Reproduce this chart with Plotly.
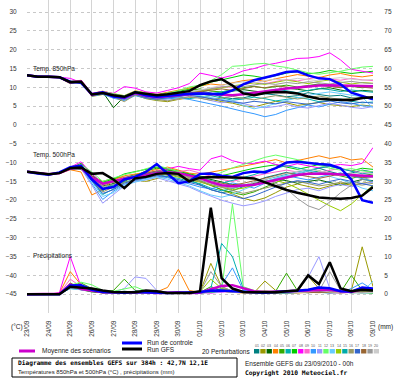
import plotly.graph_objects as go
import pandas as pd

# ---------------- data ----------------
times = pd.date_range("2010-09-23 00:00", "2010-10-09 00:00", freq="12h")  # 33 steps
day_ticks = pd.date_range("2010-09-23", "2010-10-09", freq="D")
day_labels = ["23/09", "24/09", "25/09", "26/09", "27/09", "28/09", "29/09", "30/09",
              "01/10", "02/10", "03/10", "04/10", "05/10", "06/10", "07/10", "08/10", "09/10"]
left_ticks = [-45, -40, -35, -30, -25, -20, -15, -10, -5, 0, 5, 10, 15, 20, 25, 30]
right_ticks = [0, 5, 10, 15, 20, 25, 30, 35, 40, 45, 50, 55, 60, 65, 70, 75]

mean_850 = [13.2, 12.8, 12.8, 12.7, 11.3, 11.6, 8.0, 8.6, 7.8, 7.2, 8.5, 7.8, 7.4, 7.6, 7.9, 8.2, 8.4,
            8.2, 8.0, 7.9, 8.2, 8.5, 8.9, 9.3, 9.7, 10.0, 10.3, 10.5, 10.6, 10.5, 10.4, 10.4, 10.3]
ctrl_850 = [13.2, 12.8, 12.8, 12.7, 11.5, 11.2, 8.2, 8.7, 7.6, 7.3, 8.7, 7.9, 7.5, 7.8, 8.1, 8.3, 8.4,
            8.3, 8.2, 9.2, 10.8, 11.9, 12.5, 13.3, 14.1, 14.3, 13.2, 12.4, 12.2, 10.8, 8.6, 7.8, 6.8]
gfs_850 = [13.2, 12.8, 12.8, 12.7, 11.4, 11.5, 8.1, 8.5, 7.9, 7.5, 8.7, 8.3, 7.9, 8.2, 8.5, 9.0, 10.6,
           11.6, 12.2, 10.5, 8.4, 7.9, 8.5, 8.8, 8.7, 8.4, 7.6, 7.0, 6.8, 6.6, 6.6, 7.2, 7.4]

mean_500 = [-12.4, -12.8, -13.1, -12.8, -11.6, -11.4, -14.0, -15.6, -15.0, -14.3, -14.0, -13.4, -12.8,
            -12.6, -12.8, -13.4, -14.1, -15.2, -16.0, -16.3, -16.2, -15.9, -15.3, -14.6, -13.8, -13.3,
            -13.0, -12.9, -13.0, -13.2, -13.3, -13.4, -13.6]
ctrl_500 = [-12.4, -12.9, -13.2, -12.6, -11.2, -10.8, -14.5, -17.0, -16.5, -14.5, -13.8, -12.5, -10.4,
            -13.0, -15.5, -15.0, -13.0, -12.9, -13.5, -13.8, -12.8, -12.4, -12.6, -11.5, -10.0, -9.8,
            -10.2, -10.4, -10.6, -11.5, -14.5, -20.0, -20.7]
gfs_500 = [-12.4, -12.8, -13.1, -12.8, -11.5, -11.3, -13.0, -12.8, -14.5, -16.8, -14.2, -13.8, -13.0,
           -12.8, -13.0, -15.0, -14.0, -13.8, -13.8, -13.9, -14.0, -14.2, -15.3, -16.3, -17.3, -18.0,
           -18.7, -19.3, -19.5, -19.6, -19.4, -18.8, -16.5]

mean_rr = [0, 0, 0, 0.1, 2.6, 1.4, 1.0, 0.5, 0.5, 0.4, 0.5, 0.5, 0.3, 0.4, 0.5, 0.3, 0.4,
           1.3, 2.2, 2.4, 1.5, 0.8, 0.6, 0.7, 0.8, 0.9, 1.0, 1.1, 1.2, 0.8, 0.6, 1.3, 1.2]
ctrl_rr = [0, 0, 0, 0, 2.3, 2.4, 1.2, 0.6, 0.5, 0.4, 0.6, 0.5, 0.4, 0.3, 0.4, 0.5, 0.6,
           0.9, 1.0, 0.8, 0.6, 0.5, 0.4, 0.6, 0.7, 0.9, 1.2, 1.8, 1.6, 0.8, 0.7, 1.8, 1.5]
gfs_rr = [0, 0, 0, 0, 2.0, 1.8, 1.5, 1.0, 0.6, 0.5, 0.5, 1.0, 0.8, 0.3, 0.3, 0.3, 0.8,
          23.0, 4.3, 1.5, 0.6, 0.5, 0.6, 0.5, 0.8, 1.0, 5.0, 2.7, 8.5, 1.5, 0.8, 1.2, 1.0]

pert_colors = ["#008080", "#999900", "#006600", "#ff8000", "#33aa00", "#00b0b0", "#00cc00", "#ff00ff",
               "#ff66cc", "#3399ff", "#9999ff", "#66ff66", "#66ccff", "#99cc00", "#00aaaa", "#999966",
               "#3366cc", "#996633", "#999999", "#cccccc"]

t850_pert = [
    [13.1, 12.9, 12.6, 12.8, 11.6, 11.2, 8.3, 8.9, 7.2, 7.0, 8.9, 8.3, 7.9, 8.6, 8.0, 8.8, 9.1, 8.5, 7.4, 7.0, 7.2, 7.9, 8.3, 8.0, 7.5, 7.8, 8.6, 8.1, 7.7, 7.9, 7.2, 7.0, 7.3],
    [13.3, 12.7, 12.9, 12.5, 11.0, 11.8, 7.6, 8.1, 7.5, 6.7, 8.0, 7.0, 6.5, 6.2, 6.8, 7.3, 7.6, 6.9, 6.2, 5.8, 5.1, 4.8, 5.5, 6.3, 5.9, 5.2, 5.6, 6.0, 5.4, 5.1, 4.9, 5.3, 5.0],
    [13.2, 12.8, 12.7, 12.9, 11.4, 11.7, 8.1, 8.8, 4.6, 7.6, 8.7, 7.6, 7.2, 7.8, 8.4, 8.9, 8.2, 7.9, 8.6, 8.9, 9.4, 9.0, 8.7, 9.3, 9.8, 9.5, 9.1, 9.6, 9.9, 9.3, 8.8, 9.2, 9.0],
    [13.2, 12.8, 12.9, 12.6, 11.5, 11.9, 8.4, 9.0, 8.3, 7.8, 9.1, 8.6, 8.1, 8.7, 9.3, 9.8, 10.5, 10.9, 10.6, 11.2, 11.8, 12.1, 11.6, 12.3, 12.9, 13.4, 13.0, 12.6, 13.3, 13.7, 13.1, 12.8, 13.2],
    [13.1, 12.9, 12.8, 12.7, 11.2, 11.5, 7.9, 8.5, 7.7, 7.3, 8.6, 7.9, 7.6, 7.9, 8.5, 9.2, 9.6, 9.0, 8.8, 9.4, 9.9, 10.3, 9.8, 10.2, 10.6, 10.1, 10.5, 10.9, 10.4, 10.0, 10.3, 9.9, 10.2],
    [13.2, 12.7, 12.8, 12.6, 11.1, 11.4, 7.8, 8.3, 7.4, 6.8, 8.2, 7.4, 6.9, 7.1, 7.5, 7.0, 7.4, 7.8, 7.2, 6.6, 6.9, 7.4, 7.0, 6.4, 6.8, 7.3, 6.9, 6.2, 6.5, 6.9, 6.3, 5.9, 6.1],
    [13.2, 12.8, 12.8, 12.8, 11.3, 11.7, 8.2, 8.7, 8.0, 7.5, 8.8, 8.1, 7.8, 8.3, 8.9, 9.5, 10.3, 11.4, 12.0, 12.6, 13.3, 13.0, 12.5, 13.1, 13.8, 14.2, 13.6, 13.9, 14.5, 14.1, 13.7, 14.0, 14.3],
    [13.2, 12.9, 12.8, 12.7, 12.4, 11.3, 8.4, 8.9, 8.4, 10.2, 9.8, 8.8, 8.5, 9.2, 9.9, 11.0, 13.8, 13.2, 12.5, 13.2, 14.4, 15.0, 15.9, 16.4, 17.0, 17.7, 17.8, 18.2, 19.2, 17.3, 14.8, 14.2, 13.8],
    [13.2, 12.8, 12.7, 12.7, 11.4, 11.5, 8.0, 8.7, 8.2, 7.4, 8.4, 8.0, 7.7, 8.1, 8.6, 8.4, 8.9, 9.6, 10.2, 10.0, 10.7, 11.3, 11.0, 11.6, 12.1, 11.7, 12.3, 12.8, 12.2, 11.9, 12.4, 12.0, 11.8],
    [13.2, 12.8, 12.8, 12.6, 11.2, 11.4, 7.7, 8.2, 7.1, 6.5, 7.8, 7.1, 6.7, 6.9, 7.2, 6.8, 6.3, 5.6, 5.0, 4.2, 3.6, 3.0, 2.2, 2.8, 3.9, 4.6, 5.3, 4.8, 5.5, 6.2, 5.8, 5.1, 4.9],
    [13.2, 12.8, 12.9, 12.7, 11.3, 11.5, 7.9, 8.4, 7.3, 6.8, 8.1, 7.5, 7.0, 6.6, 6.9, 7.6, 7.2, 6.5, 5.9, 6.4, 5.6, 5.0, 4.6, 4.9, 5.5, 4.8, 4.5, 5.1, 5.8, 5.3, 4.7, 4.4, 4.9],
    [13.2, 12.8, 12.8, 12.8, 11.5, 11.8, 8.2, 8.9, 8.3, 7.8, 9.0, 8.4, 8.0, 8.5, 9.1, 10.1, 10.6, 11.8, 13.4, 15.6, 15.8, 16.2, 16.4, 15.7, 15.3, 14.6, 13.9, 13.5, 13.8, 14.3, 14.9, 15.4, 15.6],
    [13.2, 12.9, 12.8, 12.7, 11.3, 11.6, 8.0, 8.5, 7.6, 7.0, 8.3, 7.6, 7.2, 7.4, 7.7, 8.0, 7.8, 7.3, 6.9, 6.3, 5.2, 4.3, 4.9, 5.8, 6.5, 7.2, 7.9, 8.4, 8.8, 8.3, 7.9, 7.5, 4.4],
    [13.2, 12.8, 12.7, 12.7, 11.4, 11.7, 8.1, 8.7, 8.0, 7.5, 8.6, 8.0, 7.6, 7.9, 8.3, 8.7, 9.0, 9.4, 9.9, 10.4, 10.9, 11.2, 10.8, 11.4, 11.9, 11.5, 11.0, 11.6, 12.0, 11.4, 10.9, 11.3, 11.1],
    [13.2, 12.8, 12.8, 12.6, 11.2, 11.5, 7.9, 8.4, 7.6, 7.1, 8.4, 7.7, 7.3, 7.5, 7.8, 8.3, 8.7, 8.3, 8.9, 9.3, 8.8, 8.4, 9.0, 9.5, 9.1, 8.6, 9.2, 9.7, 9.4, 8.9, 9.3, 9.0, 8.7],
    [13.2, 12.8, 12.8, 12.7, 11.3, 11.6, 8.0, 8.6, 7.5, 6.2, 8.0, 7.2, 6.8, 6.4, 7.0, 7.5, 7.1, 6.6, 7.2, 7.6, 7.1, 6.7, 7.3, 7.8, 7.4, 6.9, 7.3, 7.7, 7.2, 6.8, 7.1, 7.4, 7.0],
    [13.2, 12.8, 12.8, 12.7, 11.3, 11.5, 7.9, 8.4, 7.4, 6.9, 8.2, 7.3, 6.9, 7.2, 7.6, 7.9, 7.5, 7.0, 6.5, 6.1, 5.8, 6.3, 6.0, 5.6, 6.2, 5.9, 5.5, 6.0, 6.4, 5.9, 5.6, 6.1, 5.8],
    [13.2, 12.8, 12.8, 12.7, 11.3, 11.6, 8.0, 8.6, 7.8, 7.3, 8.5, 7.9, 7.5, 7.8, 8.2, 8.6, 9.0, 9.3, 9.6, 9.2, 9.8, 10.2, 9.9, 10.4, 10.1, 9.7, 10.2, 10.6, 10.3, 9.9, 10.3, 10.0, 9.8],
    [13.2, 12.8, 12.8, 12.7, 11.3, 11.6, 8.1, 8.7, 7.9, 7.4, 8.7, 8.1, 7.7, 8.0, 8.4, 8.8, 9.2, 9.7, 10.1, 10.5, 10.2, 10.7, 11.1, 10.8, 11.3, 11.0, 11.5, 11.2, 10.9, 11.3, 11.6, 11.2, 11.0],
    [13.2, 12.8, 12.8, 12.7, 11.3, 11.6, 8.0, 8.6, 7.9, 7.4, 8.6, 8.0, 7.6, 7.9, 8.3, 8.8, 9.3, 9.9, 10.6, 11.1, 11.5, 11.2, 11.8, 12.2, 11.9, 12.4, 12.1, 11.7, 12.3, 12.6, 12.2, 11.9, 12.1],
]

t500_pert = [
    [-12.4, -12.8, -13.2, -12.7, -11.5, -11.0, -15.0, -17.5, -15.5, -14.0, -13.2, -12.9, -12.3, -13.0, -13.6, -14.5, -15.8, -17.2, -18.0, -17.5, -16.4, -15.2, -14.0, -13.3, -12.6, -13.0, -12.2, -11.5, -12.4, -13.1, -12.8, -12.0, -12.5],
    [-12.4, -12.7, -13.0, -12.9, -11.7, -11.3, -13.5, -15.0, -14.2, -13.8, -14.6, -15.0, -14.2, -13.5, -13.0, -13.9, -15.0, -16.1, -17.3, -18.4, -19.5, -20.2, -19.4, -18.0, -16.5, -15.7, -16.3, -17.0, -16.2, -15.5, -16.0, -15.4, -15.0],
    [-12.4, -12.9, -13.1, -12.8, -11.6, -11.8, -14.2, -16.2, -15.6, -14.8, -13.9, -13.1, -12.6, -12.0, -12.5, -13.2, -13.8, -14.5, -15.2, -15.8, -16.1, -15.6, -15.0, -14.4, -14.8, -15.5, -15.0, -14.6, -15.3, -16.0, -15.2, -14.5, -14.8],
    [-12.4, -12.8, -13.1, -12.9, -11.9, -12.5, -18.6, -17.2, -14.6, -13.5, -13.0, -12.6, -11.8, -11.2, -12.0, -12.8, -13.1, -12.6, -12.0, -11.6, -11.1, -10.4, -9.8, -9.2, -10.1, -9.4, -8.7, -8.2, -8.9, -8.4, -9.3, -9.0, -11.2],
    [-12.4, -12.8, -13.0, -12.7, -11.4, -10.2, -13.0, -15.8, -16.4, -15.0, -13.5, -12.2, -11.5, -11.9, -12.6, -13.5, -14.8, -16.0, -17.2, -18.0, -18.6, -17.8, -16.5, -15.2, -14.1, -13.5, -12.8, -12.2, -12.9, -13.6, -14.2, -13.5, -13.0],
    [-12.4, -12.8, -13.1, -12.8, -11.6, -11.5, -14.8, -18.5, -17.0, -15.2, -14.4, -13.8, -13.2, -13.6, -14.2, -15.0, -15.6, -16.8, -17.5, -16.9, -16.0, -15.3, -14.5, -13.8, -12.9, -12.4, -12.0, -12.6, -13.2, -12.8, -13.4, -14.0, -13.8],
    [-12.4, -12.8, -13.1, -12.8, -11.5, -11.2, -13.6, -15.2, -14.4, -13.0, -12.4, -11.8, -11.2, -11.6, -12.2, -13.0, -13.6, -14.0, -13.5, -12.8, -12.2, -11.5, -11.0, -10.6, -11.2, -11.8, -11.2, -10.5, -11.0, -11.7, -12.2, -11.5, -11.8],
    [-12.4, -12.8, -13.0, -12.7, -11.2, -9.8, -13.0, -15.5, -15.2, -14.0, -13.6, -13.0, -12.4, -11.8, -11.0, -11.6, -12.0, -9.0, -8.2, -9.5, -10.2, -10.2, -9.6, -10.5, -11.0, -10.3, -10.8, -11.4, -10.9, -10.5, -10.8, -10.2, -6.0],
    [-12.4, -12.8, -13.1, -12.8, -11.6, -11.0, -14.5, -16.0, -15.0, -14.6, -14.2, -13.8, -13.5, -13.0, -12.4, -12.0, -12.8, -13.6, -14.5, -15.0, -14.2, -13.6, -13.0, -12.5, -12.0, -12.5, -13.1, -12.6, -12.0, -11.5, -12.2, -12.8, -12.4],
    [-12.4, -12.8, -13.1, -12.8, -11.6, -11.4, -15.5, -19.8, -17.6, -15.8, -14.8, -14.2, -13.6, -14.0, -14.8, -15.5, -16.5, -17.0, -16.2, -15.4, -16.0, -16.8, -15.5, -14.2, -13.5, -14.0, -14.6, -13.9, -13.2, -12.8, -13.5, -14.1, -15.0],
    [-12.4, -12.8, -13.1, -12.8, -11.6, -11.6, -16.0, -20.8, -18.5, -16.2, -15.0, -14.6, -14.0, -14.8, -15.6, -16.5, -17.8, -19.0, -20.0, -20.8, -21.5, -21.0, -20.2, -19.0, -18.0, -17.2, -16.8, -17.5, -16.5, -15.8, -16.4, -15.6, -15.2],
    [-12.4, -12.8, -13.1, -12.8, -11.4, -10.5, -12.5, -15.0, -14.0, -13.2, -12.5, -11.6, -10.8, -11.5, -12.4, -13.6, -14.5, -13.8, -12.5, -11.4, -10.5, -9.5, -8.6, -8.0, -8.5, -9.2, -10.0, -10.8, -11.5, -12.0, -11.6, -12.2, -12.5],
    [-12.4, -12.8, -13.1, -12.8, -11.6, -11.3, -15.2, -19.0, -18.0, -16.0, -15.2, -14.5, -13.8, -14.4, -15.2, -16.2, -17.5, -18.6, -19.2, -18.5, -17.2, -16.0, -15.0, -14.2, -13.5, -12.8, -12.2, -12.8, -13.6, -14.5, -15.5, -16.8, -17.5],
    [-12.4, -12.8, -13.1, -12.8, -11.6, -11.5, -14.0, -15.8, -15.2, -14.4, -13.8, -13.2, -12.8, -13.2, -13.8, -14.6, -15.2, -16.0, -16.5, -17.2, -16.8, -16.0, -15.2, -14.8, -15.5, -16.8, -18.5, -20.0, -21.5, -22.8, -21.0, -18.5, -16.0],
    [-12.4, -12.8, -13.1, -12.8, -11.6, -11.6, -14.2, -16.8, -16.0, -14.6, -13.9, -13.3, -12.5, -12.2, -12.8, -13.4, -14.0, -14.8, -15.5, -14.8, -14.0, -13.2, -12.2, -11.5, -10.8, -11.4, -12.0, -11.5, -11.0, -11.6, -12.3, -13.0, -12.6],
    [-12.4, -12.8, -13.1, -12.8, -11.6, -11.4, -14.6, -17.8, -16.5, -15.3, -14.5, -14.0, -13.3, -13.0, -13.5, -14.2, -15.0, -15.8, -16.6, -17.4, -18.2, -17.5, -16.8, -16.0, -15.4, -15.0, -15.6, -16.2, -15.8, -15.2, -15.6, -16.0, -15.5],
    [-12.4, -12.8, -13.1, -12.8, -11.6, -11.5, -14.8, -18.2, -17.2, -15.5, -14.6, -14.0, -13.4, -13.8, -14.5, -15.2, -16.0, -17.2, -18.0, -19.0, -19.6, -18.8, -17.6, -16.5, -15.5, -14.8, -15.2, -15.8, -15.0, -14.4, -15.0, -15.6, -16.2],
    [-12.4, -12.8, -13.1, -12.8, -11.6, -11.3, -13.8, -15.4, -14.8, -14.0, -13.4, -12.8, -12.2, -12.4, -13.0, -13.8, -14.4, -15.0, -15.6, -16.0, -15.5, -14.8, -14.0, -13.3, -12.8, -13.2, -13.8, -14.2, -13.6, -13.0, -13.5, -14.0, -13.6],
    [-12.4, -12.8, -13.1, -12.8, -11.6, -11.4, -14.2, -16.4, -15.8, -14.6, -14.0, -13.5, -12.9, -12.7, -13.2, -13.9, -14.6, -15.5, -16.4, -16.8, -16.2, -15.4, -14.5, -15.5, -17.0, -19.5, -21.5, -22.5, -20.5, -18.0, -16.0, -14.5, -13.8],
    [-12.4, -12.8, -13.1, -12.8, -11.6, -11.5, -14.0, -15.5, -14.8, -14.2, -13.8, -13.4, -12.9, -12.6, -12.9, -13.5, -14.2, -15.0, -15.8, -16.5, -16.0, -15.2, -14.4, -13.6, -12.9, -12.3, -11.8, -12.2, -12.8, -13.4, -13.0, -12.6, -12.9],
]

rr_pert = [
    [0, 0, 0, 0.2, 2.5, 2.0, 1.0, 0.5, 0.4, 0.8, 0.5, 0.3, 0.2, 0.3, 0.5, 0.3, 0.4, 0.8, 1.5, 0.8, 0.5, 0.4, 0.6, 0.5, 0.3, 0.8, 1.2, 0.6, 0.4, 0.5, 0.6, 1.0, 0.8],
    [0, 0, 0, 0.1, 3.0, 1.5, 0.8, 0.3, 0.5, 0.4, 0.2, 0.3, 0.5, 0.4, 0.2, 0.3, 0.5, 8.2, 2.0, 0.8, 0.5, 0.4, 3.5, 1.0, 0.5, 0.6, 4.8, 1.5, 0.6, 0.4, 1.0, 12.6, 2.0],
    [0, 0, 0, 0, 1.8, 1.2, 0.6, 0.4, 0.3, 0.5, 0.3, 0.2, 0.4, 0.3, 0.2, 0.4, 0.3, 0.6, 1.2, 0.9, 0.5, 0.3, 0.4, 0.6, 0.8, 0.5, 0.4, 0.7, 1.5, 0.6, 0.5, 0.7, 0.6],
    [0, 0, 0, 0.3, 6.0, 2.5, 1.0, 0.5, 0.4, 0.3, 0.2, 0.4, 0.6, 1.8, 6.6, 1.0, 0.5, 0.4, 0.8, 0.5, 0.3, 0.4, 0.5, 0.6, 0.4, 0.3, 0.5, 0.4, 0.6, 0.8, 0.5, 0.4, 1.5],
    [0, 0, 0, 0.1, 2.2, 3.0, 1.5, 0.8, 1.0, 4.0, 1.0, 0.5, 0.3, 0.4, 0.3, 0.2, 0.5, 2.0, 1.0, 0.6, 0.4, 0.5, 0.6, 0.8, 5.6, 1.0, 0.5, 0.8, 0.6, 0.5, 5.0, 1.0, 0.6],
    [0, 0, 0, 0, 1.5, 1.2, 0.8, 0.4, 0.3, 0.2, 0.3, 0.5, 0.4, 0.3, 0.2, 0.3, 0.4, 1.5, 13.5, 10.0, 1.5, 0.6, 0.4, 0.5, 0.3, 0.4, 0.6, 0.5, 0.3, 0.4, 0.5, 0.3, 0.4],
    [0, 0, 0, 0.2, 2.8, 1.8, 1.2, 0.6, 0.5, 0.4, 0.3, 0.2, 0.3, 0.4, 0.5, 0.3, 0.4, 0.6, 0.8, 1.0, 0.6, 0.4, 0.5, 0.3, 0.4, 0.6, 0.5, 0.4, 0.5, 0.6, 0.4, 0.5, 0.3],
    [0, 0, 0, 0.4, 10.0, 2.0, 1.2, 0.6, 0.4, 0.3, 0.5, 0.4, 0.3, 0.2, 0.3, 0.4, 0.5, 0.3, 0.6, 0.8, 0.5, 0.4, 0.6, 0.5, 0.8, 1.0, 0.6, 0.5, 0.4, 0.6, 0.8, 0.5, 0.6],
    [0, 0, 0, 0.2, 4.0, 2.0, 0.8, 0.5, 0.3, 0.2, 0.4, 0.5, 0.3, 0.4, 0.3, 0.2, 0.3, 0.5, 1.0, 0.6, 0.4, 0.3, 0.5, 0.4, 0.3, 0.5, 0.6, 0.8, 0.4, 0.3, 0.5, 0.6, 0.5],
    [0, 0, 0, 0, 2.0, 2.4, 1.5, 0.8, 0.6, 0.5, 0.4, 0.6, 0.3, 0.2, 0.3, 0.4, 0.5, 0.8, 2.5, 7.0, 1.0, 0.5, 0.4, 0.3, 0.5, 0.6, 1.2, 2.0, 0.8, 0.5, 1.5, 3.0, 1.2],
    [0, 0, 0, 0, 1.6, 1.5, 1.0, 0.6, 0.5, 1.5, 4.6, 4.2, 1.0, 0.5, 0.4, 0.3, 0.5, 0.4, 0.6, 0.8, 0.5, 0.4, 0.3, 0.5, 0.6, 1.0, 4.5, 10.0, 1.5, 0.6, 0.4, 0.5, 0.6],
    [0, 0, 0, 0.1, 2.4, 3.2, 2.5, 1.0, 0.8, 1.5, 2.0, 0.8, 0.5, 0.4, 0.3, 0.5, 0.6, 0.5, 1.0, 24.0, 2.0, 1.0, 0.6, 0.5, 0.8, 0.6, 1.2, 0.8, 0.5, 0.6, 0.4, 0.5, 0.5],
    [0, 0, 0, 0, 1.5, 1.2, 0.8, 0.5, 0.4, 0.3, 0.6, 0.8, 0.5, 0.3, 0.4, 0.3, 0.5, 0.6, 1.2, 0.8, 0.6, 0.5, 0.4, 0.6, 0.5, 0.8, 1.0, 1.5, 0.8, 0.6, 0.4, 0.5, 3.5],
    [0, 0, 0, 0, 2.0, 1.5, 1.0, 0.6, 0.4, 0.5, 0.3, 0.4, 0.5, 0.3, 0.4, 0.5, 0.6, 4.0, 1.5, 0.8, 0.5, 0.6, 0.8, 0.6, 0.5, 1.2, 0.8, 0.6, 0.5, 0.4, 0.6, 0.8, 0.5],
    [0, 0, 0, 0, 1.8, 2.0, 1.2, 0.6, 0.5, 0.4, 0.3, 0.5, 0.4, 0.3, 0.5, 0.4, 0.3, 0.5, 0.8, 0.6, 0.4, 0.5, 0.6, 0.4, 0.3, 0.5, 0.6, 0.5, 0.8, 0.6, 0.4, 0.5, 0.6],
    [0, 0, 0, 0.1, 2.5, 1.8, 1.0, 0.6, 0.5, 0.4, 0.3, 0.4, 0.5, 0.4, 0.3, 0.4, 0.5, 1.0, 0.8, 0.5, 0.4, 0.3, 0.5, 0.6, 0.4, 0.5, 0.7, 0.6, 0.5, 0.4, 0.5, 0.6, 0.5],
    [0, 0, 0, 0, 2.2, 2.0, 1.4, 0.7, 0.5, 0.4, 0.6, 0.5, 0.4, 0.3, 0.4, 0.5, 0.6, 0.8, 1.0, 0.7, 0.5, 0.4, 0.3, 0.5, 0.6, 0.8, 1.2, 1.5, 1.0, 0.6, 0.8, 1.8, 1.0],
    [0, 0, 0, 0, 1.8, 1.4, 0.8, 0.5, 0.4, 0.3, 0.4, 0.5, 0.3, 0.4, 0.5, 0.3, 0.4, 0.6, 0.8, 0.5, 0.4, 0.5, 0.4, 0.3, 0.5, 0.6, 0.4, 0.5, 0.6, 0.4, 0.5, 0.4, 0.6],
    [0, 0, 0, 0.1, 2.6, 1.6, 0.9, 0.5, 0.4, 0.6, 0.5, 0.4, 0.3, 0.5, 0.4, 0.3, 0.5, 6.0, 2.0, 0.8, 0.5, 0.4, 0.6, 0.5, 0.4, 0.8, 1.2, 0.8, 6.0, 1.0, 0.6, 0.5, 0.4],
    [0, 0, 0, 0, 2.0, 1.5, 0.9, 0.5, 0.4, 0.3, 0.4, 0.3, 0.4, 0.5, 0.3, 0.4, 0.5, 0.6, 0.8, 0.5, 0.4, 0.3, 0.5, 0.6, 0.4, 0.5, 0.6, 1.0, 0.6, 0.5, 0.4, 0.3, 0.5],
]

# ---------------- layout helpers (pixels -> paper) ----------------
W, H = 400, 378
PL, PR, PT, PB = 27, 373, 0, 313


def px(x):
    return (x - PL) / (PR - PL)


def py(y):
    return (PB - y) / (PB - PT)


fig = go.Figure()

for i in range(20):
    c = pert_colors[i]
    fig.add_trace(go.Scatter(x=times, y=t850_pert[i], mode="lines", line=dict(color=c, width=1), yaxis="y"))
    fig.add_trace(go.Scatter(x=times, y=t500_pert[i], mode="lines", line=dict(color=c, width=1), yaxis="y"))
    fig.add_trace(go.Scatter(x=times, y=rr_pert[i], mode="lines", line=dict(color=c, width=1), yaxis="y2"))

MEAN_C, CTRL_C, GFS_C = "#cc00cc", "#0000ff", "#000000"
for ser, c in ((mean_850, MEAN_C), (ctrl_850, CTRL_C), (gfs_850, GFS_C),
               (mean_500, MEAN_C), (ctrl_500, CTRL_C), (gfs_500, GFS_C)):
    fig.add_trace(go.Scatter(x=times, y=ser, mode="lines", line=dict(color=c, width=2.5), yaxis="y"))
for ser, c in ((mean_rr, MEAN_C), (ctrl_rr, CTRL_C), (gfs_rr, GFS_C)):
    fig.add_trace(go.Scatter(x=times, y=ser, mode="lines", line=dict(color=c, width=2.5), yaxis="y2"))

tickfont = dict(family="Liberation Sans", size=6.5, color="#333333")

fig.update_layout(
    width=W, height=H, template="none", showlegend=False,
    paper_bgcolor="white", plot_bgcolor="white",
    margin=dict(l=PL, r=W - PR, t=PT, b=H - PB, pad=0),
    xaxis=dict(type="date", range=[day_ticks[0], day_ticks[-1]], tickvals=list(day_ticks),
               ticktext=day_labels, tickangle=-90, tickfont=tickfont, showgrid=True,
               gridcolor="#d4d4d4", gridwidth=1, ticks="outside", ticklen=4,
               tickcolor="rgba(0,0,0,0)", zeroline=False, showline=False, automargin=False),
    yaxis=dict(range=[-50, 33.24], tickvals=left_ticks, tickfont=tickfont, showgrid=True,
               gridcolor="#c8c8c8", griddash="dot", gridwidth=1, zeroline=False, showline=False,
               ticks="outside", ticklen=8, tickcolor="rgba(0,0,0,0)", automargin=False),
    yaxis2=dict(range=[-5, 78.24], tickvals=right_ticks, overlaying="y", side="right",
                tickfont=tickfont, showgrid=False, zeroline=False, showline=False,
                ticks="outside", ticklen=9, tickcolor="rgba(0,0,0,0)", automargin=False),
)

shapes = []
annos = []


def text(x, y, s, size=6.5, bold=False, family="Liberation Sans", anchor="left", color="#222222"):
    annos.append(dict(x=px(x), y=py(y), xref="paper", yref="paper", text=("<b>%s</b>" % s) if bold else s,
                      showarrow=False, xanchor=anchor, yanchor="middle",
                      font=dict(family=family, size=size, color=color)))


def hline(x0, x1, y, color, width=3):
    shapes.append(dict(type="line", xref="paper", yref="paper", x0=px(x0), x1=px(x1), y0=py(y), y1=py(y),
                       line=dict(color=color, width=width)))


# in-plot labels
text(31, 69, "Temp. 850hPa")
text(31, 155, "Temp. 500hPa")
text(31, 256, "Précipitations")
text(17, 327, "(°C)", anchor="center")
text(385, 327, "(mm)", anchor="center")

# legend
hline(19, 35, 351, MEAN_C)
text(40, 351, "Moyenne des scénarios")
hline(122, 142, 343, CTRL_C)
text(145, 342, "Run de controle")
hline(122, 142, 349, GFS_C)
text(145, 349, "Run GFS")
text(200, 351, "20 Perturbations")
for i in range(20):
    x0 = 254 + i * 6.3
    shapes.append(dict(type="rect", xref="paper", yref="paper", x0=px(x0), x1=px(x0 + 5.3),
                       y0=py(353.5), y1=py(349), line=dict(width=0), fillcolor=pert_colors[i]))
    text(x0 + 2.6, 346, "%02d" % (i + 1), size=3.6, anchor="center", color="#555555")

# title box
shapes.append(dict(type="rect", xref="paper", yref="paper", x0=px(12), x1=px(237), y0=py(377), y1=py(358),
                   line=dict(color="#000000", width=1), fillcolor="rgba(0,0,0,0)"))
text(16, 363, "Diagramme des ensembles GEFS sur 384h : 42,7N 12,1E", size=6.2, bold=True,
     family="DejaVu Sans Mono", color="#000000")
text(16, 372, "Températures 850hPa et 500hPa (°C) , précipitations (mm)", size=6.0)
text(243, 363, "Ensemble GEFS du 23/09/2010 - 00h", size=6.5)
text(243, 373, "Copyright 2010 Meteociel.fr", size=6.3, bold=True, family="DejaVu Sans Mono",
     color="#000000")

fig.update_layout(shapes=shapes, annotations=annos)
fig.write_html("out.html", config={"displayModeBar": False},
               post_script="document.body.style.margin='0px';document.body.style.overflow='hidden';")
